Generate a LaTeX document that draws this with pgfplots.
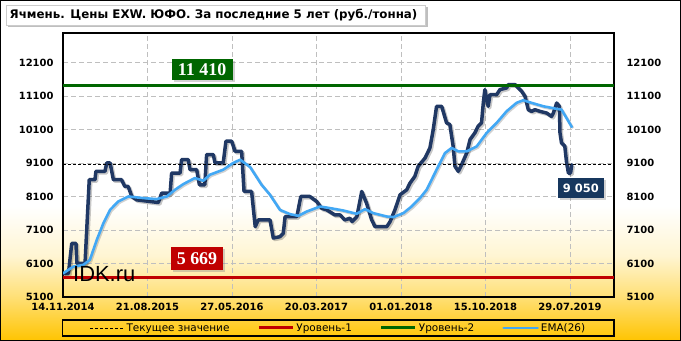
\documentclass[border=0pt]{standalone}
\usepackage{pgfplots}
\pgfplotsset{compat=1.18}
\usepackage{pgfplotstable}
\usepackage{fontspec}
\setmainfont{DejaVu Sans}
\newfontfamily\serifb{Liberation Serif}
\newfontfamily\arial{Liberation Sans}
\usetikzlibrary{shadows}

\definecolor{navy}{RGB}{32,56,100}
\definecolor{emablue}{RGB}{66,168,245}
\definecolor{lvlgreen}{RGB}{0,102,0}
\definecolor{lvlred}{RGB}{192,0,0}
\definecolor{boxnavy}{RGB}{23,55,94}
\definecolor{gold1}{RGB}{255,196,0}
\definecolor{gold2}{RGB}{255,224,120}
\definecolor{gold3}{RGB}{255,245,210}

\pgfplotstableread{
d v
1 5800
18 5800
29 6700
43 6700
46 6100
73 6100
87 8600
106 8600
109 8850
139 8850
145 9100
156 9100
167 8600
194 8600
205 8400
216 8400
228 8100
244 8000
316 7920
327 8200
355 8200
360 8800
388 8800
393 9200
415 9200
421 8900
443 8900
452 8450
470 8450
476 9350
498 9350
504 9100
531 9100
540 9750
559 9750
570 9450
592 9450
600 8250
625 8250
637 7200
647 7400
686 7400
697 6860
719 6900
730 7000
736 7500
775 7500
788 8100
818 8100
841 7950
857 7750
874 7700
901 7550
918 7550
934 7400
951 7450
958 7350
974 7500
990 8250
1006 7900
1023 7400
1034 7200
1073 7200
1084 7350
1100 7700
1117 8150
1139 8300
1150 8500
1166 8700
1177 9000
1200 9250
1216 9550
1227 10100
1238 10790
1255 10790
1271 10300
1282 10245
1293 9600
1299 9000
1310 8850
1321 9050
1338 9400
1349 9800
1365 10000
1376 10200
1387 10300
1393 10900
1398 11290
1409 10790
1415 11140
1437 11140
1448 11290
1470 11340
1476 11440
1498 11440
1520 11240
1531 11090
1542 10690
1553 10640
1564 10690
1581 10640
1603 10590
1619 10490
1625 10590
1636 10890
1645 10790
1647 10000
1652 9700
1663 9600
1669 9100
1675 8800
1682 8800
1686 9050
}\price

\pgfplotstableread{
d v
1 5809
34 6006
67 6057
89 6207
112 6805
134 7305
156 7702
183 7950
216 8100
266 8052
310 8022
344 8100
371 8300
399 8471
437 8650
465 8570
487 8750
531 8900
564 9100
587 9198
620 8980
658 8450
686 8150
719 7700
752 7574
780 7523
808 7652
852 7800
885 7753
929 7682
973 7583
1001 7723
1028 7603
1073 7503
1095 7484
1128 7603
1155 7800
1183 8052
1205 8300
1238 8900
1266 9398
1288 9548
1310 9447
1338 9447
1371 9596
1404 9997
1437 10296
1470 10643
1503 10894
1525 10973
1553 10894
1592 10793
1636 10715
1652 10694
1686 10176
}\ema

\begin{document}
\begin{tikzpicture}
\useasboundingbox (0,0) rectangle (681bp,341bp);
% background gradient
\fill[white] (0,0) rectangle (681bp,341bp);
\shade[top color=gold2,bottom color=gold1] (0,0) rectangle (681bp,45bp);
\shade[top color=gold3,bottom color=gold2] (0,45bp) rectangle (681bp,85bp);
\shade[top color=white,bottom color=gold3] (0,85bp) rectangle (681bp,135bp);
\draw[line width=1bp] (0.5bp,0.5bp) rectangle (680.5bp,340.5bp);

% title
\fill[black,opacity=0.25] (8bp,314bp) rectangle (428bp,334bp);
\fill[white,draw=gray!40] (6bp,316bp) rectangle (425bp,336bp);
\node[anchor=base west,inner sep=0] at (9.5bp,322bp)
  {\bfseries\fontsize{11.9}{12}\selectfont Ячмень. Цены EXW. ЮФО. За последние 5 лет (руб./тонна)};

% legend frame
\draw[line width=1.2bp] (62.5bp,5bp) rectangle (614bp,21bp);

\begin{axis}[
  at={(63bp,44bp)}, anchor=south west,
  scale only axis, width=551bp, height=264bp,
  xmin=0, xmax=1826, ymin=5100, ymax=12980,
  xtick={0,280,560,840,1120,1400,1680},
  xticklabels={14.11.2014,21.08.2015,27.05.2016,20.03.2017,01.01.2018,15.10.2018,29.07.2019},
  ytick={5100,6100,...,12100},
  scaled y ticks=false,
  major tick length=0pt,
  /pgf/number format/.cd, 1000 sep={}, assume math mode=true, /pgfplots/.cd,
  tick label style={font=\bfseries\fontsize{10}{12}\selectfont},
  xticklabel style={yshift=-3bp},
  yticklabel style={xshift=-6bp},
  grid=major,
  major grid style={dash pattern=on 5bp off 3bp, color=gray!50, line width=0.8bp},
  axis line style={line width=1.2bp},
  legend columns=4,
  legend style={at={(axis description cs:0.5,-0.1174)}, anchor=center, draw=none, fill=none,
    font=\fontsize{10.5}{12}\selectfont,
    /tikz/every even column/.append style={column sep=26bp}},
  legend image code/.code={\draw[#1] (0bp,0bp) -- (34bp,0bp);},
]
% price shadow and line
\addplot[forget plot, black, opacity=0.22, line width=3.5bp, line join=round, xshift=1.5bp, yshift=-1.5bp] table[x=d,y=v] {\price};
\addplot[forget plot, navy, line width=3.5bp, line join=round, line cap=round] table[x=d,y=v] {\price};
% current value
\addplot[black, line width=0.8bp, dash pattern=on 3bp off 2bp] coordinates {(0,9050) (1826,9050)};
\addlegendentry{Текущее значение}
\addplot[lvlred, line width=3bp] coordinates {(0,5669) (1826,5669)};
\addlegendentry{Уровень-1}
\addplot[lvlgreen, line width=3bp] coordinates {(0,11410) (1826,11410)};
\addlegendentry{Уровень-2}
\addplot[forget plot, black, opacity=0.18, line width=2.6bp, line join=round, xshift=1.2bp, yshift=-1.2bp] table[x=d,y=v] {\ema};
\addplot[emablue, line width=2.6bp, line join=round, line cap=round] table[x=d,y=v] {\ema};
\addlegendentry{EMA(26)}

\node[fill=lvlgreen, text=white, minimum width=61bp, minimum height=21bp, inner sep=0,
  drop shadow={shadow xshift=2bp, shadow yshift=-2bp, opacity=0.35}]
  at (axis cs:461,11900) {\serifb\bfseries\fontsize{18}{18}\selectfont 11 410};
\node[fill=lvlred, text=white, minimum width=52bp, minimum height=23bp, inner sep=0,
  drop shadow={shadow xshift=2bp, shadow yshift=-2bp, opacity=0.35}]
  at (axis cs:444,6237) {\serifb\bfseries\fontsize{18}{18}\selectfont 5 669};
\node[fill=boxnavy, text=white, minimum width=46bp, minimum height=20bp, inner sep=0,
  drop shadow={shadow xshift=2bp, shadow yshift=-2bp, opacity=0.35}]
  at (axis cs:1716,8352) {\bfseries\fontsize{11.5}{12}\selectfont 9 050};
\end{axis}

\begin{axis}[
  at={(63bp,44bp)}, anchor=south west,
  scale only axis, width=551bp, height=264bp,
  xmin=0, xmax=1826, ymin=5100, ymax=12980,
  xtick=\empty,
  ytick={5100,6100,...,12100},
  scaled y ticks=false,
  yticklabel pos=right,
  major tick length=0pt,
  axis line style={draw=none},
  /pgf/number format/.cd, 1000 sep={}, assume math mode=true, /pgfplots/.cd,
  tick label style={font=\bfseries\fontsize{10}{12}\selectfont},
  yticklabel style={xshift=9bp},
]
\end{axis}

\node[anchor=base west, inner sep=0] at (73bp,59bp) {\arial\fontsize{22}{22}\selectfont IDK.ru};
\end{tikzpicture}
\end{document}
